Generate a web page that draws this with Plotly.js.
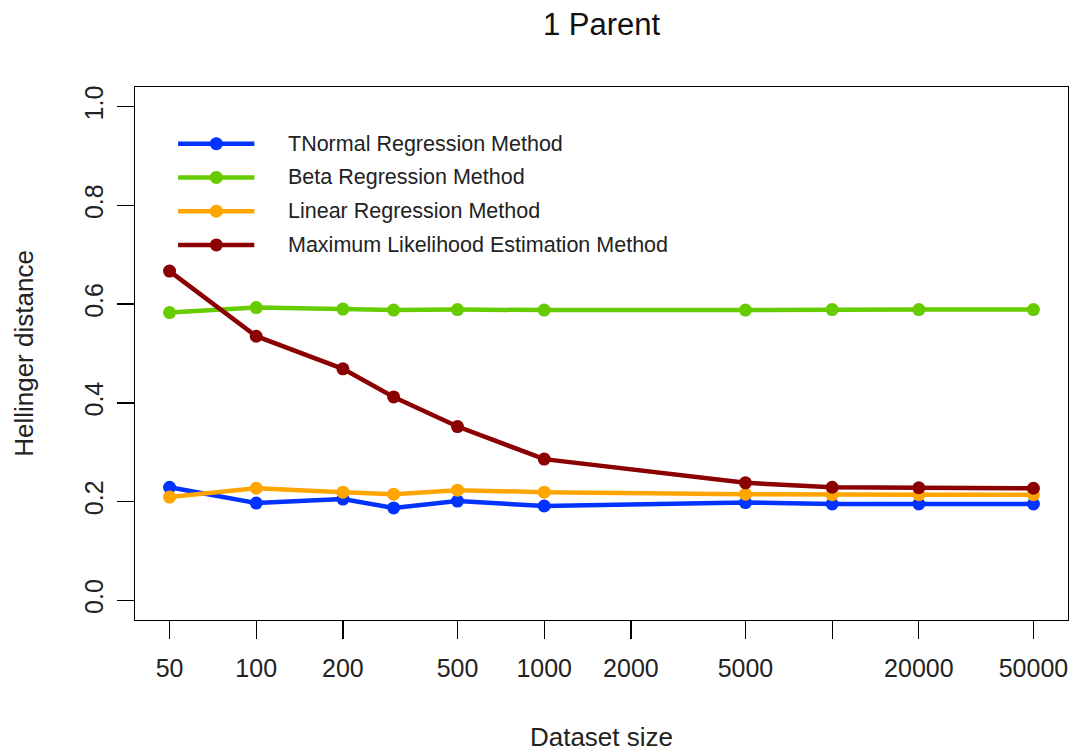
<!DOCTYPE html>
<html>
<head>
<meta charset="utf-8">
<script src="https://cdn.plot.ly/plotly-3.0.1.min.js"></script>
<style>html,body{margin:0;padding:0;background:#fff;}#chart{width:1078px;height:756px;}</style>
</head>
<body>
<div id="chart"></div>
<script>
const datasetSizes = [50, 100, 200, 300, 500, 1000, 5000, 10000, 20000, 50000];
const tnormal = [0.229, 0.197, 0.205, 0.187, 0.201, 0.191, 0.198, 0.195, 0.195, 0.195];
const beta    = [0.583, 0.593, 0.590, 0.588, 0.589, 0.588, 0.588, 0.589, 0.589, 0.589];
const linear  = [0.209, 0.227, 0.219, 0.215, 0.223, 0.219, 0.215, 0.214, 0.214, 0.214];
const mle     = [0.667, 0.535, 0.469, 0.412, 0.352, 0.286, 0.238, 0.229, 0.228, 0.227];
const seriesNames = ["TNormal Regression Method", "Beta Regression Method", "Linear Regression Method", "Maximum Likelihood Estimation Method"];
const seriesColors = ["#0033FF", "#66CC00", "#FFA500", "#8B0000"];
const xTickVals = [50, 100, 200, 500, 1000, 2000, 5000, 10000, 20000, 50000];
const xTickText = ["50", "100", "200", "500", "1000", "2000", "5000", "", "20000", "50000"];
const yTickVals = [0, 0.2, 0.4, 0.6, 0.8, 1.0];

const FONT = "Liberation Sans, Arial, Helvetica, sans-serif";
const allSeries = [tnormal, beta, linear, mle];

const traces = allSeries.map((ys, i) => ({
  x: datasetSizes, y: ys, type: "scatter", mode: "lines+markers",
  name: seriesNames[i], showlegend: false,
  line: {color: seriesColors[i], width: 4.5},
  marker: {color: seriesColors[i], size: 13}
}));

// manual legend (R style, no box)
const legX0 = 0.0462, legX1 = 0.1279, legXm = 0.0872, legXt = 0.1615;
const legY0 = 0.8936, legDy = 0.0633;
const shapes = [];
const annotations = [];
seriesNames.forEach((nm, i) => {
  const yy = legY0 - i * legDy;
  shapes.push({type: "line", xref: "paper", yref: "paper", x0: legX0, x1: legX1, y0: yy, y1: yy,
    line: {color: seriesColors[i], width: 4.5}});
  shapes.push({type: "circle", xref: "paper", yref: "paper", xsizemode: "pixel", ysizemode: "pixel",
    xanchor: legXm, yanchor: yy, x0: -6.5, x1: 6.5, y0: -6.5, y1: 6.5,
    fillcolor: seriesColors[i], line: {width: 0}});
  annotations.push({xref: "paper", yref: "paper", x: legXt, y: yy, xanchor: "left", yanchor: "middle",
    text: nm, showarrow: false, font: {family: FONT, size: 21.5, color: "#222"}});
});

const layout = {
  width: 1078, height: 756,
  margin: {l: 135, r: 10, t: 87, b: 136},
  paper_bgcolor: "#fff", plot_bgcolor: "#fff",
  font: {family: FONT, color: "#222"},
  title: {text: "1 Parent", font: {family: FONT, size: 31, color: "#111"},
    xref: "paper", x: 0.5, xanchor: "center", yref: "container", y: 1 - 24/756, yanchor: "middle"},
  xaxis: {
    type: "log", range: [1.579, 4.819], tickmode: "array", tickvals: xTickVals, ticktext: xTickText,
    showgrid: false, zeroline: false, showline: true, mirror: true, linecolor: "#000", linewidth: 1.3,
    ticks: "outside", ticklen: 18, tickwidth: 1.3, tickcolor: "#000", ticklabelstandoff: 8,
    tickfont: {family: FONT, size: 25, color: "#222"},
    title: {text: "Dataset size", font: {family: FONT, size: 26, color: "#222"}, standoff: 46}
  },
  yaxis: {
    range: [-0.04, 1.04], tickmode: "array", tickvals: yTickVals, tickformat: ".1f", tickangle: -90,
    showgrid: false, zeroline: false, showline: true, mirror: true, linecolor: "#000", linewidth: 1.3,
    ticks: "outside", ticklen: 17, tickwidth: 1.3, tickcolor: "#000", ticklabelstandoff: 4,
    tickfont: {family: FONT, size: 25, color: "#222"},
    title: {text: "Hellinger distance", font: {family: FONT, size: 26, color: "#222"}, standoff: 38}
  },
  shapes: shapes,
  annotations: annotations
};

Plotly.newPlot("chart", traces, layout, {staticPlot: true, displayModeBar: false});
</script>
</body>
</html>
